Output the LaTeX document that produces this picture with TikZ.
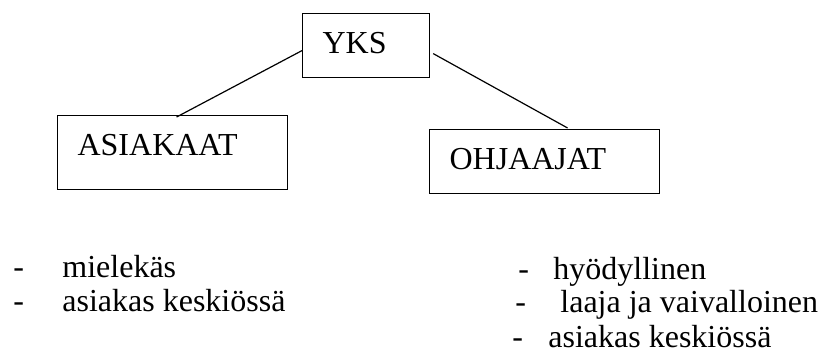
\documentclass[tikz,border=0pt]{standalone}
\usepackage{fontspec}
\setmainfont{Liberation Serif}
\usetikzlibrary{positioning}

\tikzset{
    orgbox/.style={draw, line width=0.6pt, inner xsep=10pt, inner ysep=0pt,
        text height=20pt, align=left, anchor=north west,
        font=\fontsize{16}{19}\selectfont},
    listtext/.style={anchor=base west, inner sep=0pt,
        font=\fontsize{16}{19}\selectfont},
}

\begin{document}
\begin{tikzpicture}[x=0.5pt, y=-0.5pt]
    \useasboundingbox (0,0) rectangle (819,363);
    % boxes
    \node[orgbox, text width=43.5pt, text depth=12pt] (yks) at (302,13) {YKS};
    \node[orgbox, text width=95pt, text depth=17pt] (asiakaat) at (57,115) {ASIAKAAT};
    \node[orgbox, text width=95pt, text depth=12pt] (ohjaajat) at (429,129) {OHJAAJAT};
    \draw[line width=0.6pt] ([yshift=-2.5pt]yks.west) -- ([xshift=2pt,yshift=-1pt]asiakaat.north);
    \draw[line width=0.6pt] ([xshift=1.5pt,yshift=-4pt]yks.east) -- ([xshift=11.5pt,yshift=0.5pt]ohjaajat.north);
    % lists
    \node[listtext] (dashA1) at (13,278) {-};
    \node[listtext] (itemA1) at (62,278) {mielekäs};
    \node[listtext] (dashA2) at (13,312) {-};
    \node[listtext] (itemA2) at (62,312) {asiakas keskiössä};
    \node[listtext] (dashB1) at (518,279) {-};
    \node[listtext] (itemB1) at (553,279) {hyödyllinen};
    \node[listtext] (dashB2) at (515,313) {-};
    \node[listtext] (itemB2) at (560,313) {laaja ja vaivalloinen};
    \node[listtext] (dashB3) at (512,347) {-};
    \node[listtext] (itemB3) at (548,347) {asiakas keskiössä};
\end{tikzpicture}
\end{document}
